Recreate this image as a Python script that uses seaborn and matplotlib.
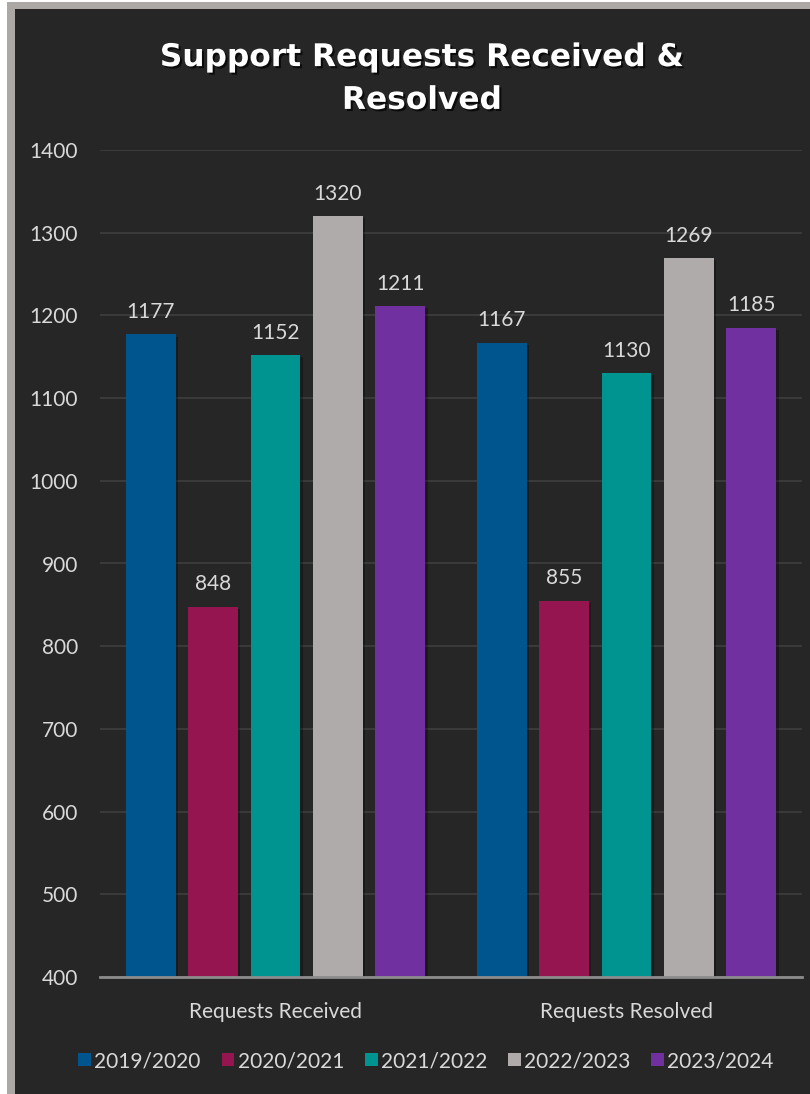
import matplotlib
matplotlib.use("Agg")
import matplotlib.pyplot as plt
import matplotlib.patheffects as pe
from matplotlib.patches import Rectangle
import seaborn as sns
import pandas as pd

categories = ["Requests Received", "Requests Resolved"]
years = ["2019/2020", "2020/2021", "2021/2022", "2022/2023", "2023/2024"]
v_2019 = [1177, 1167]
v_2020 = [848, 855]
v_2021 = [1152, 1130]
v_2022 = [1320, 1269]
v_2023 = [1211, 1185]
colors = ["#00558f", "#951550", "#009491", "#afabab", "#7030a0"]
y_ticks = [400, 500, 600, 700, 800, 900, 1000, 1100, 1200, 1300, 1400]

series = [v_2019, v_2020, v_2021, v_2022, v_2023]
rows = []
for yr, vals in zip(years, series):
    for c, v in zip(categories, vals):
        rows.append({"Category": c, "Year": yr, "Value": v})
df = pd.DataFrame(rows)

sns.set_theme(style="dark")
plt.rcParams["font.family"] = ["Lato", "DejaVu Sans"]

BG = "#262626"
TXT = "#d9d9d9"
FS = 15

fig = plt.figure(figsize=(8.1, 10.94), dpi=100, facecolor="white")
fig.patches.append(Rectangle((7 / 810, 0), 1, (1094 - 2) / 1094, transform=fig.transFigure,
                             facecolor="#aca8a6", edgecolor="none", zorder=-10))
fig.patches.append(Rectangle((15 / 810, 0), 1, (1094 - 9) / 1094, transform=fig.transFigure,
                             facecolor=BG, edgecolor="none", zorder=-9))

ax = fig.add_axes([100 / 810, 1 - 977 / 1094, 702 / 810, (977 - 150) / 1094])
ax.set_facecolor(BG)

sns.barplot(data=df, x="Category", y="Value", hue="Year", hue_order=years,
            palette=colors, width=0.89, gap=0.2, ax=ax, legend=False,
            saturation=1, edgecolor="none", linewidth=0)

for bar in ax.patches:
    bar.set_path_effects([pe.SimplePatchShadow(offset=(1.5, -1.5), shadow_rgbFace="black", alpha=0.3),
                          pe.Normal()])

for cont in ax.containers:
    ax.bar_label(cont, padding=9, color=TXT, fontsize=FS)

ax.set_ylim(400, 1400)
ax.set_xlim(-0.5, 1.5)
ax.set_yticks(y_ticks)
ax.set_yticklabels([str(t) for t in y_ticks])
ax.grid(axis="y", color="#3f3f3f", linewidth=1.2)
ax.grid(axis="x", visible=False)
ax.set_axisbelow(True)
for s in ["top", "right", "left"]:
    ax.spines[s].set_visible(False)
ax.spines["bottom"].set_color("#8c8c8c")
ax.spines["bottom"].set_linewidth(2)
ax.tick_params(axis="y", length=0, pad=16, labelcolor=TXT, labelsize=FS)
ax.tick_params(axis="x", length=0, pad=18, labelcolor=TXT, labelsize=FS)
ax.set_xlabel("")
ax.set_ylabel("")

fig.text(422 / 810, 1 - 79 / 1094, "Support Requests Received &\nResolved",
         ha="center", va="center", color="white", fontsize=22.5, fontweight="bold",
         family=["DejaVu Sans"], linespacing=1.6,
         path_effects=[pe.SimplePatchShadow(offset=(1.5, -1.5), shadow_rgbFace="black", alpha=0.7),
                       pe.Normal()])

handles = [Rectangle((0, 0), 1, 1, facecolor=c, edgecolor="none") for c in colors]
fig.legend(handles, years, loc="center", bbox_to_anchor=(426 / 810, 1 - 1061 / 1094),
           ncol=5, frameon=False, fontsize=FS, labelcolor=TXT,
           handlelength=0.62, handleheight=0.62, handletextpad=0.15, columnspacing=1.0)

fig.savefig("out.png", dpi=100, facecolor=fig.get_facecolor())
